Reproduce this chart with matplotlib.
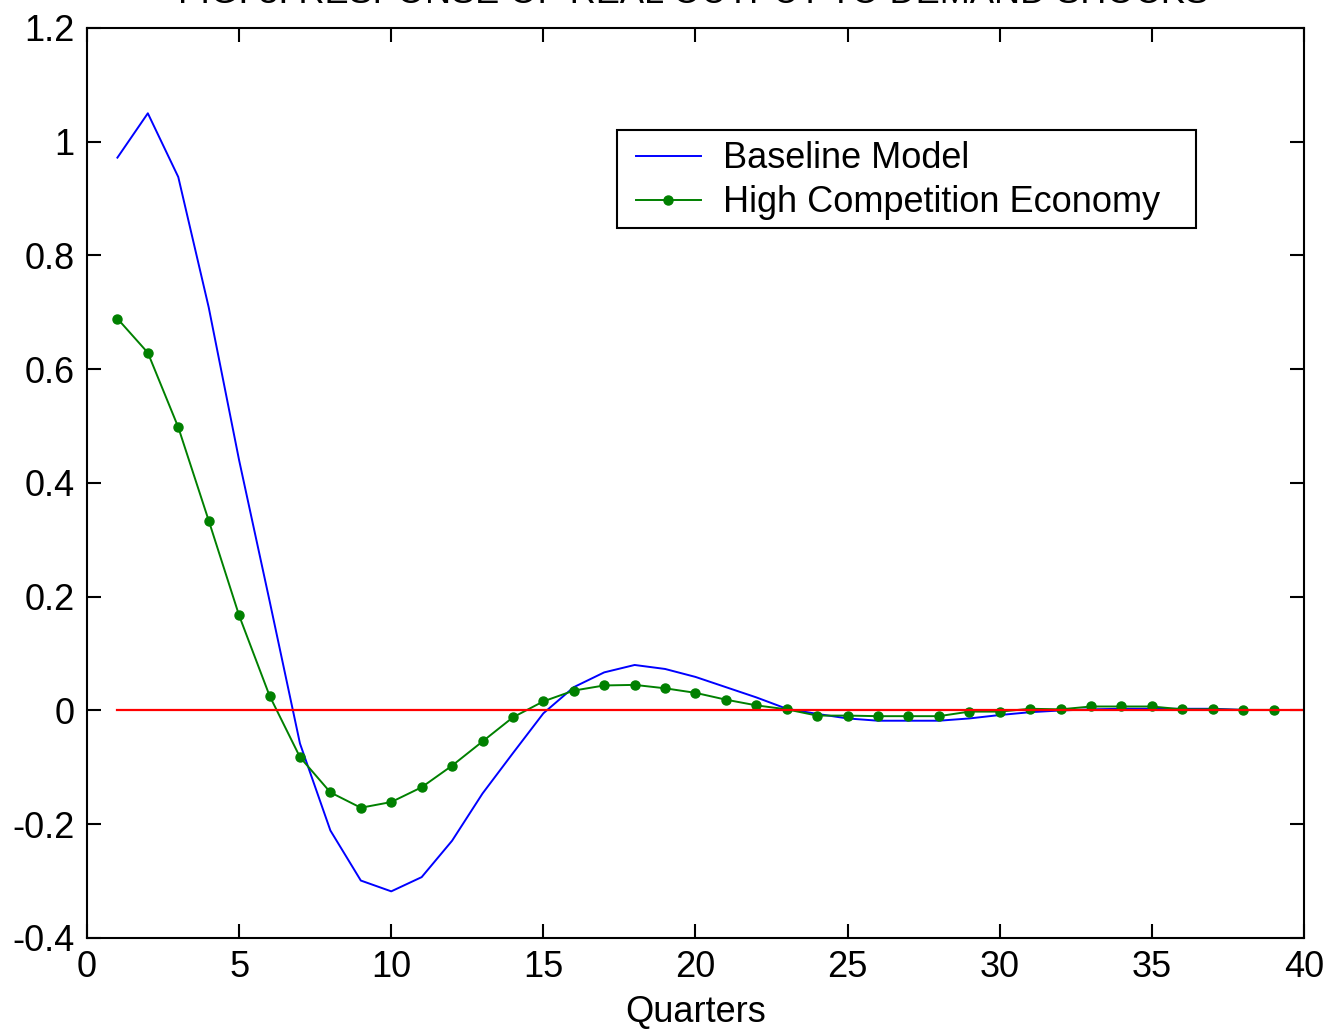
import matplotlib
matplotlib.use('Agg')
from matplotlib import pyplot as plt
from matplotlib.patches import Rectangle

plt.rcParams['font.family'] = ['Liberation Sans', 'DejaVu Sans']

quarters_base = list(range(1, 39))
baseline = [0.972, 1.05, 0.938, 0.709, 0.44, 0.193, -0.058, -0.211, -0.299, -0.318,
            -0.293, -0.229, -0.146, -0.075, -0.005, 0.041, 0.067, 0.080, 0.073, 0.059,
            0.041, 0.023, 0.003, -0.006, -0.014, -0.018, -0.018, -0.018, -0.014, -0.008,
            -0.003, 0.0, 0.002, 0.003, 0.003, 0.003, 0.003, 0.001]

quarters_high = list(range(1, 40))
high_comp = [0.689, 0.629, 0.498, 0.334, 0.167, 0.026, -0.082, -0.144, -0.171, -0.161,
             -0.135, -0.097, -0.0545, -0.012, 0.016, 0.035, 0.044, 0.045, 0.039, 0.031,
             0.019, 0.009, 0.002, -0.009, -0.009, -0.01, -0.01, -0.01, -0.002, -0.002,
             0.003, 0.002, 0.007, 0.007, 0.007, 0.002, 0.002, 0.001, 0.001]

zero_x = [1, 40]
zero_y = [0, 0]

fig = plt.figure(figsize=(13.26, 10.32), dpi=100)
ax = fig.add_axes([0.0656, 0.0911, 0.9178, 0.8818])

ax.plot(quarters_base, baseline, color='blue', linewidth=1.4, label='Baseline Model')
ax.plot(quarters_high, high_comp, color='green', linewidth=1.4, marker='o',
        markersize=6.5, label='High Competition Economy')
ax.plot(zero_x, zero_y, color='red', linewidth=1.6)

ax.set_xlim(0, 40)
ax.set_ylim(-0.4, 1.2)
ax.set_xticks(range(0, 41, 5))
ax.set_yticks([-0.4, -0.2, 0, 0.2, 0.4, 0.6, 0.8, 1.0, 1.2])
ax.set_yticklabels(['-0.4', '-0.2', '0', '0.2', '0.4', '0.6', '0.8', '1', '1.2'])
ax.tick_params(direction='in', length=10, width=1.5, top=True, right=True,
               labelsize=26, pad=9)
for s in ax.spines.values():
    s.set_linewidth(1.5)

ax.set_xlabel('Quarters', fontsize=26, labelpad=7)

# legend box drawn by hand so the padding matches the original
ax.add_patch(Rectangle((0.4355, 0.7802), 0.4757, 0.1077, transform=ax.transAxes,
                       facecolor='white', edgecolor='black', linewidth=1.5, zorder=4))
leg = ax.legend(loc='upper left', bbox_to_anchor=(0.4511, 0.8755), fontsize=26,
                frameon=False, borderaxespad=0, borderpad=0,
                handlelength=1.8, handletextpad=0.6, labelspacing=0.25)
leg.set_zorder(5)

fig.text(0.523, 1.006, 'FIG. 3. RESPONSE OF REAL OUTPUT TO DEMAND SHOCKS',
         ha='center', va='center', fontsize=26)

fig.savefig('out.png', dpi=100)
